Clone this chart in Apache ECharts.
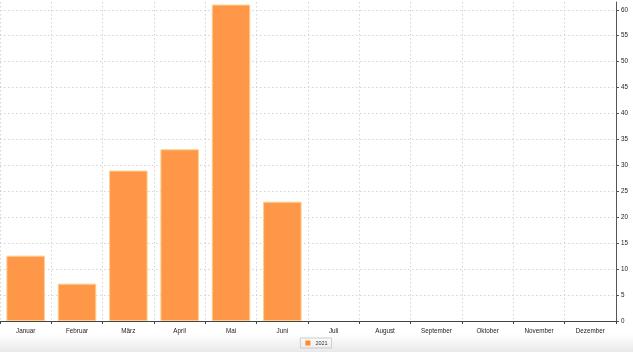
<!DOCTYPE html>
<html>
<head>
<meta charset="utf-8">
<script src="https://cdn.jsdelivr.net/npm/echarts@6/dist/echarts.min.js"></script>
<style>
html,body{margin:0;padding:0;background:#fff;}
#chart{width:633px;height:352px;}
</style>
</head>
<body>
<div id="chart"></div>
<script>
var months = ['Januar','Februar','März','April','Mai','Juni','Juli','August','September','Oktober','November','Dezember'];
var values2021 = [12.6, 7.2, 29.0, 33.1, 61.0, 23.0, null, null, null, null, null, null];
var seriesName = '2021';
var yMin = 0, yMax = 61.5, yStep = 5;

var chart = echarts.init(document.getElementById('chart'), null, {renderer: 'canvas'});
chart.setOption({
  animation: false,
  backgroundColor: '#fff',
  graphic: [{
    type: 'rect',
    left: 0, top: 334, z: -10,
    shape: {width: 633, height: 18},
    style: {
      fill: {type: 'linear', x: 0, y: 0, x2: 0, y2: 1, colorStops: [
        {offset: 0, color: 'rgba(235,235,235,0)'},
        {offset: 1, color: 'rgba(232,232,232,1)'}
      ]}
    }
  }],
  grid: {left: 0, right: 17, top: 2, bottom: 31, containLabel: false},
  legend: {
    bottom: 4,
    left: 'center',
    data: [seriesName],
    icon: 'rect',
    itemWidth: 5, itemHeight: 5, itemGap: 4,
    itemStyle: {borderWidth: 0, color: '#fe8a2e'},
    borderColor: '#ccc', borderWidth: 1, borderRadius: 0,
    padding: [2, 4, 2, 5],
    textStyle: {fontSize: 5.5, color: '#333', fontFamily: 'Liberation Sans, Arial, sans-serif'}
  },
  xAxis: {
    type: 'category',
    data: months,
    boundaryGap: true,
    axisLine: {show: true, lineStyle: {color: '#444', width: 1}},
    axisTick: {show: true, interval: 0, length: 3, lineStyle: {color: '#444'}},
    axisLabel: {interval: 0, fontSize: 6.3, color: '#222', margin: 7, fontFamily: 'Liberation Sans, Arial, sans-serif'},
    splitLine: {show: true, interval: 0, lineStyle: {type: [1.5, 2.5], color: '#d4d4d4', width: 1}}
  },
  yAxis: {
    type: 'value',
    position: 'right',
    min: yMin, max: yMax, interval: yStep,
    axisLine: {show: true, lineStyle: {color: '#555', width: 1}},
    axisTick: {show: true, length: 3, lineStyle: {color: '#555'}},
    axisLabel: {
      fontSize: 6.3, color: '#222', margin: 5, showMaxLabel: false,
      fontFamily: 'Liberation Sans, Arial, sans-serif',
      formatter: function (v) { return (v % yStep === 0) ? String(v) : ''; }
    },
    splitLine: {show: true, showMaxLine: false, lineStyle: {type: [1.5, 2.5], color: '#d4d4d4', width: 1}}
  },
  series: [{
    name: seriesName,
    type: 'bar',
    data: values2021,
    barCategoryGap: '25%',
    itemStyle: {color: '#fe9748', borderColor: '#fccf8c', borderWidth: 1}
  }]
});
</script>
</body>
</html>
